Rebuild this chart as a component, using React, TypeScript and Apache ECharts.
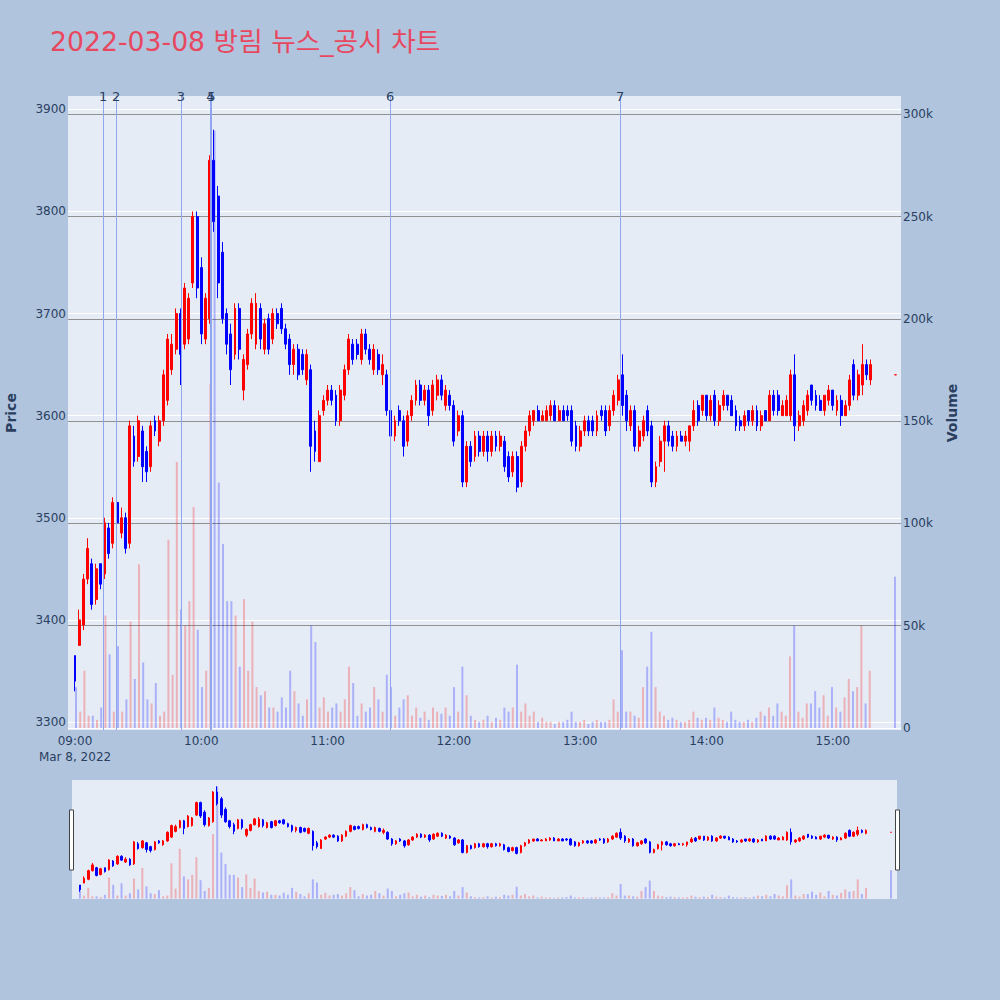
import { useEffect, useRef } from 'react';
import * as echarts from 'echarts';

// [time, open, close, low, high, volume] - 2 minute candles
type Candle = [string, number, number, number, number, number];

const candles0900: Candle[] = [
  ['09:00', 3365, 3340, 3330, 3365, 20000],
  ['09:02', 3375, 3400, 3375, 3410, 8000],
  ['09:04', 3395, 3440, 3390, 3445, 28000],
  ['09:06', 3440, 3470, 3435, 3480, 6000],
  ['09:08', 3455, 3415, 3410, 3460, 6000],
  ['09:10', 3420, 3450, 3415, 3455, 4000],
  ['09:12', 3455, 3435, 3430, 3455, 10000],
  ['09:14', 3445, 3495, 3440, 3500, 55000],
  ['09:16', 3490, 3465, 3460, 3495, 36000],
  ['09:18', 3475, 3515, 3470, 3520, 8000],
  ['09:20', 3515, 3495, 3490, 3520, 40000],
  ['09:22', 3485, 3500, 3480, 3510, 8000],
  ['09:24', 3500, 3470, 3465, 3505, 14000],
  ['09:26', 3475, 3590, 3470, 3595, 52000],
  ['09:28', 3580, 3555, 3550, 3590, 24000],
  ['09:30', 3560, 3595, 3555, 3600, 80000],
  ['09:32', 3585, 3550, 3535, 3590, 32000],
  ['09:34', 3565, 3545, 3535, 3570, 14000],
  ['09:36', 3550, 3590, 3545, 3595, 12000],
  ['09:38', 3595, 3585, 3580, 3600, 22000],
  ['09:40', 3575, 3595, 3570, 3600, 6000],
  ['09:42', 3595, 3640, 3590, 3645, 8000],
  ['09:44', 3615, 3675, 3610, 3680, 92000],
  ['09:46', 3645, 3670, 3640, 3680, 26000],
  ['09:48', 3665, 3700, 3660, 3705, 130000],
  ['09:50', 3700, 3660, 3630, 3705, 58000],
  ['09:52', 3670, 3725, 3665, 3730, 50000],
  ['09:54', 3675, 3715, 3670, 3720, 62000],
  ['09:56', 3730, 3795, 3725, 3800, 108000],
  ['09:58', 3795, 3725, 3715, 3800, 48000],
];

const candles1000: Candle[] = [
  ['10:00', 3745, 3680, 3670, 3755, 20000],
  ['10:02', 3675, 3715, 3670, 3720, 28000],
  ['10:04', 3695, 3850, 3690, 3855, 168000],
  ['10:06', 3850, 3790, 3780, 3880, 292000],
  ['10:08', 3815, 3730, 3715, 3825, 120000],
  ['10:10', 3760, 3695, 3690, 3770, 90000],
  ['10:12', 3700, 3670, 3660, 3705, 62000],
  ['10:14', 3680, 3645, 3630, 3690, 62000],
  ['10:16', 3660, 3705, 3655, 3710, 55000],
  ['10:18', 3705, 3665, 3655, 3710, 30000],
  ['10:20', 3625, 3655, 3615, 3660, 63000],
  ['10:22', 3650, 3680, 3645, 3685, 28000],
  ['10:24', 3680, 3710, 3675, 3715, 52000],
  ['10:26', 3670, 3710, 3665, 3720, 20000],
  ['10:28', 3705, 3675, 3665, 3710, 16000],
  ['10:30', 3665, 3690, 3660, 3695, 18000],
  ['10:32', 3695, 3665, 3660, 3700, 10000],
  ['10:34', 3675, 3700, 3670, 3705, 10000],
  ['10:36', 3700, 3690, 3685, 3705, 8000],
  ['10:38', 3705, 3685, 3680, 3710, 15000],
  ['10:40', 3685, 3670, 3665, 3690, 10000],
  ['10:42', 3675, 3650, 3640, 3680, 28000],
  ['10:44', 3650, 3665, 3640, 3670, 18000],
  ['10:46', 3665, 3640, 3635, 3670, 12000],
  ['10:48', 3660, 3645, 3640, 3665, 6000],
  ['10:50', 3635, 3660, 3630, 3665, 14000],
  ['10:52', 3645, 3570, 3545, 3650, 50000],
  ['10:54', 3585, 3565, 3555, 3595, 42000],
  ['10:56', 3555, 3600, 3555, 3605, 10000],
  ['10:58', 3605, 3615, 3600, 3620, 15000],
];

const candles1100: Candle[] = [
  ['11:00', 3615, 3625, 3610, 3630, 8000],
  ['11:02', 3625, 3615, 3610, 3630, 10000],
  ['11:04', 3620, 3595, 3590, 3625, 12000],
  ['11:06', 3595, 3625, 3590, 3630, 8000],
  ['11:08', 3620, 3645, 3615, 3650, 14000],
  ['11:10', 3645, 3675, 3640, 3680, 30000],
  ['11:12', 3670, 3655, 3650, 3675, 22000],
  ['11:14', 3670, 3660, 3655, 3675, 6000],
  ['11:16', 3655, 3680, 3650, 3685, 12000],
  ['11:18', 3680, 3665, 3660, 3685, 8000],
  ['11:20', 3665, 3655, 3650, 3670, 10000],
  ['11:22', 3645, 3665, 3640, 3670, 20000],
  ['11:24', 3660, 3645, 3640, 3665, 14000],
  ['11:26', 3640, 3650, 3630, 3660, 8000],
  ['11:28', 3640, 3605, 3600, 3645, 26000],
  ['11:30', 3605, 3580, 3570, 3610, 20000],
  ['11:32', 3580, 3595, 3575, 3600, 6000],
  ['11:34', 3605, 3595, 3590, 3610, 10000],
  ['11:36', 3595, 3570, 3560, 3600, 14000],
  ['11:38', 3575, 3600, 3570, 3605, 16000],
  ['11:40', 3600, 3615, 3595, 3620, 6000],
  ['11:42', 3615, 3630, 3610, 3635, 10000],
  ['11:44', 3630, 3615, 3610, 3635, 5000],
  ['11:46', 3615, 3625, 3610, 3630, 8000],
  ['11:48', 3625, 3600, 3590, 3630, 4000],
  ['11:50', 3605, 3630, 3600, 3635, 10000],
  ['11:52', 3620, 3635, 3615, 3640, 8000],
  ['11:54', 3635, 3620, 3615, 3640, 7000],
  ['11:56', 3610, 3625, 3605, 3630, 10000],
  ['11:58', 3620, 3610, 3605, 3625, 6000],
];

const candles1200: Candle[] = [
  ['12:00', 3610, 3575, 3570, 3615, 20000],
  ['12:02', 3585, 3600, 3580, 3605, 8000],
  ['12:04', 3600, 3535, 3530, 3605, 30000],
  ['12:06', 3535, 3570, 3530, 3575, 16000],
  ['12:08', 3570, 3555, 3550, 3575, 6000],
  ['12:10', 3560, 3580, 3555, 3585, 4000],
  ['12:12', 3580, 3565, 3560, 3585, 3000],
  ['12:14', 3565, 3580, 3560, 3585, 4000],
  ['12:16', 3580, 3565, 3555, 3585, 6000],
  ['12:18', 3565, 3580, 3560, 3585, 3000],
  ['12:20', 3580, 3570, 3565, 3585, 5000],
  ['12:22', 3570, 3580, 3565, 3585, 4000],
  ['12:24', 3575, 3550, 3545, 3580, 10000],
  ['12:26', 3560, 3540, 3535, 3565, 8000],
  ['12:28', 3545, 3560, 3540, 3565, 10000],
  ['12:30', 3560, 3530, 3525, 3565, 31000],
  ['12:32', 3535, 3570, 3530, 3575, 8000],
  ['12:34', 3570, 3585, 3565, 3590, 12000],
  ['12:36', 3585, 3600, 3580, 3605, 6000],
  ['12:38', 3595, 3605, 3590, 3605, 8000],
  ['12:40', 3605, 3595, 3595, 3610, 3000],
  ['12:42', 3595, 3600, 3595, 3605, 5000],
  ['12:44', 3595, 3605, 3595, 3610, 3000],
  ['12:46', 3600, 3610, 3595, 3615, 3000],
  ['12:48', 3610, 3595, 3595, 3615, 2000],
  ['12:50', 3595, 3605, 3595, 3610, 3000],
  ['12:52', 3605, 3595, 3595, 3610, 3000],
  ['12:54', 3605, 3600, 3595, 3610, 4000],
  ['12:56', 3605, 3575, 3570, 3610, 8000],
  ['12:58', 3590, 3570, 3565, 3595, 3000],
];

const candles1300: Candle[] = [
  ['13:00', 3570, 3585, 3565, 3590, 3000],
  ['13:02', 3585, 3595, 3580, 3600, 4000],
  ['13:04', 3595, 3585, 3580, 3600, 2000],
  ['13:06', 3595, 3585, 3580, 3600, 3000],
  ['13:08', 3585, 3600, 3580, 3605, 4000],
  ['13:10', 3605, 3600, 3595, 3610, 3000],
  ['13:12', 3605, 3585, 3580, 3610, 3000],
  ['13:14', 3590, 3605, 3585, 3610, 4000],
  ['13:16', 3605, 3620, 3600, 3625, 14000],
  ['13:18', 3615, 3635, 3610, 3640, 8000],
  ['13:20', 3640, 3610, 3600, 3660, 38000],
  ['13:22', 3620, 3595, 3585, 3625, 8000],
  ['13:24', 3590, 3605, 3585, 3610, 8000],
  ['13:26', 3605, 3570, 3565, 3610, 6000],
  ['13:28', 3570, 3585, 3565, 3590, 5000],
  ['13:30', 3580, 3595, 3575, 3600, 20000],
  ['13:32', 3605, 3585, 3580, 3610, 30000],
  ['13:34', 3590, 3535, 3530, 3595, 47000],
  ['13:36', 3535, 3550, 3530, 3555, 20000],
  ['13:38', 3555, 3575, 3550, 3580, 8000],
  ['13:40', 3575, 3590, 3545, 3595, 6000],
  ['13:42', 3590, 3575, 3570, 3595, 4000],
  ['13:44', 3580, 3570, 3565, 3585, 5000],
  ['13:46', 3570, 3580, 3565, 3585, 4000],
  ['13:48', 3580, 3575, 3575, 3585, 3000],
  ['13:50', 3575, 3580, 3570, 3585, 3000],
  ['13:52', 3575, 3590, 3565, 3590, 4000],
  ['13:54', 3590, 3605, 3585, 3615, 8000],
  ['13:56', 3610, 3595, 3590, 3615, 5000],
  ['13:58', 3605, 3620, 3600, 3620, 4000],
];

const candles1400: Candle[] = [
  ['14:00', 3620, 3600, 3595, 3620, 5000],
  ['14:02', 3600, 3615, 3595, 3620, 4000],
  ['14:04', 3620, 3595, 3590, 3625, 10000],
  ['14:06', 3595, 3610, 3590, 3615, 5000],
  ['14:08', 3610, 3620, 3605, 3625, 4000],
  ['14:10', 3620, 3610, 3605, 3620, 3000],
  ['14:12', 3615, 3600, 3600, 3620, 8000],
  ['14:14', 3605, 3590, 3585, 3610, 4000],
  ['14:16', 3595, 3590, 3585, 3600, 3000],
  ['14:18', 3590, 3600, 3585, 3605, 3000],
  ['14:20', 3605, 3595, 3590, 3605, 4000],
  ['14:22', 3595, 3605, 3590, 3610, 3000],
  ['14:24', 3605, 3590, 3585, 3610, 5000],
  ['14:26', 3590, 3600, 3585, 3605, 8000],
  ['14:28', 3605, 3595, 3595, 3605, 6000],
  ['14:30', 3595, 3620, 3595, 3625, 10000],
  ['14:32', 3620, 3605, 3600, 3625, 6000],
  ['14:34', 3620, 3605, 3600, 3625, 12000],
  ['14:36', 3600, 3610, 3600, 3615, 8000],
  ['14:38', 3600, 3615, 3600, 3620, 6000],
  ['14:40', 3600, 3640, 3595, 3645, 35000],
  ['14:42', 3640, 3590, 3575, 3660, 50000],
  ['14:44', 3590, 3600, 3585, 3605, 8000],
  ['14:46', 3595, 3610, 3590, 3615, 5000],
  ['14:48', 3605, 3620, 3600, 3625, 12000],
  ['14:50', 3630, 3615, 3610, 3630, 12000],
  ['14:52', 3620, 3610, 3605, 3625, 18000],
  ['14:54', 3615, 3605, 3605, 3620, 10000],
  ['14:56', 3605, 3620, 3600, 3620, 16000],
  ['14:58', 3615, 3625, 3610, 3630, 6000],
];

const candles1500: Candle[] = [
  ['15:00', 3625, 3610, 3605, 3625, 20000],
  ['15:02', 3605, 3615, 3600, 3620, 10000],
  ['15:04', 3615, 3600, 3590, 3620, 8000],
  ['15:06', 3600, 3610, 3600, 3615, 15000],
  ['15:08', 3610, 3635, 3605, 3640, 24000],
  ['15:10', 3650, 3620, 3615, 3655, 18000],
  ['15:12', 3620, 3640, 3615, 3645, 20000],
  ['15:14', 3630, 3650, 3620, 3670, 50000],
  ['15:16', 3650, 3640, 3635, 3655, 12000],
  ['15:18', 3635, 3650, 3630, 3655, 28000],
  ['15:30', 3640, 3640, 3640, 3640, 74000],
];

// numbered news / disclosure markers
const eventMarks = [
  { label: '1', time: '09:13:20' },
  { label: '2', time: '09:19:30' },
  { label: '3', time: '09:50:20' },
  { label: '4', time: '10:04:20' },
  { label: '5', time: '10:04:50' },
  { label: '6', time: '11:29:40' },
  { label: '7', time: '13:19:00' },
];

const tradeDate = { year: 2022, month: 3, day: 8, monthName: 'Mar' };
const priceAxis = { min: 3300, max: 3900, step: 100 };
const volumeAxis = { min: 0, max: 300000, step: 50000 };

const UP = '#ff0000';
const DOWN = '#0000ff';
const UP_VOL = 'rgba(255,0,0,0.25)';
const DOWN_VOL = 'rgba(0,0,255,0.25)';
const TEXT = '#2a3f5f';
const FONT = 'DejaVu Sans, Verdana, sans-serif';

const toTs = (t: string) => {
  const [h, m, s = 0] = t.split(':').map(Number);
  return new Date(tradeDate.year, tradeDate.month - 1, tradeDate.day, h, m, s).getTime();
};

const pad = (n: number) => (n < 10 ? '0' + n : '' + n);

export default function App() {
  const chartRef = useRef<HTMLDivElement>(null);

  useEffect(() => {
    if (!chartRef.current) return;
    const chart = echarts.init(chartRef.current, null, { renderer: 'svg' });

    const candles = [
      ...candles0900, ...candles1000, ...candles1100, ...candles1200,
      ...candles1300, ...candles1400, ...candles1500,
    ];
    const isUp = (i: number) => {
      const [, o, c] = candles[i];
      if (c !== o) return c > o;
      return i > 0 ? c >= candles[i - 1][2] : true;
    };
    const candleData = candles.map((c) => [toTs(c[0]), c[1], c[2], c[3], c[4]]);
    const volData = candles.map((c, i) => ({
      value: [toTs(c[0]), c[5]],
      itemStyle: { color: isUp(i) ? UP_VOL : DOWN_VOL },
    }));

    const xMin = toTs('08:56:40');
    const xMax = toTs('15:32:24');
    const HOUR = 3600 * 1000;
    const hiddenX = (gridIndex: number) => ({ gridIndex, type: 'time', min: xMin, max: xMax, show: false });

    const candleStyle = {
      color: UP, color0: DOWN, borderColor: UP, borderColor0: DOWN,
      borderColorDoji: UP, borderWidth: 1,
    };
    const noAxisParts = {
      axisLine: { show: false }, axisTick: { show: false },
      axisLabel: { show: false }, splitLine: { show: false },
    };

    const option = {
      animation: false,
      backgroundColor: '#b0c4de',
      title: {
        text: `${tradeDate.year}-${pad(tradeDate.month)}-${pad(tradeDate.day)} 방림 뉴스_공시 차트`,
        left: 45,
        top: 23,
        textStyle: { color: '#e8485f', fontSize: 26.7, fontWeight: 'normal', fontFamily: FONT + ', Noto Sans CJK KR' },
      },
      grid: [
        { left: 68, top: 96, width: 833, height: 634, show: true, backgroundColor: '#e5ecf6', borderWidth: 0, outerBoundsMode: 'none' },
        { left: 68, top: 109.3, width: 833, height: 612.7, outerBoundsMode: 'none' },
        { left: 68, top: 114.3, width: 833, height: 613.7, outerBoundsMode: 'none' },
        { left: 72, top: 780, width: 825, height: 119, show: true, backgroundColor: '#e5ecf6', borderWidth: 0, outerBoundsMode: 'none' },
      ],
      xAxis: [
        {
          gridIndex: 0, type: 'time', min: xMin, max: xMax, minInterval: HOUR, maxInterval: HOUR,
          axisLine: { show: false }, axisTick: { show: false }, splitLine: { show: false },
          axisLabel: {
            color: TEXT, fontSize: 12, fontFamily: FONT, margin: 3, lineHeight: 16,
            showMinLabel: false, showMaxLabel: false,
            formatter: (v: number) => {
              const d = new Date(v);
              if (d.getMinutes() !== 0 || d.getSeconds() !== 0) return '';
              const hh = pad(d.getHours()) + ':00';
              return d.getHours() === 9 ? `${hh}\n${tradeDate.monthName} ${tradeDate.day}, ${tradeDate.year}` : hh;
            },
          },
        },
        hiddenX(1),
        hiddenX(2),
        hiddenX(3),
      ],
      yAxis: [
        {
          gridIndex: 0, type: 'value', min: 0, max: 1, ...noAxisParts,
          name: 'Price', nameLocation: 'middle', nameGap: 50, nameRotate: 90,
          nameTextStyle: { color: TEXT, fontSize: 14, fontWeight: 'bold', fontFamily: FONT },
        },
        {
          gridIndex: 0, type: 'value', min: 0, max: 1, position: 'right', ...noAxisParts,
          name: 'Volume', nameLocation: 'middle', nameGap: 44, nameRotate: 90,
          nameTextStyle: { color: TEXT, fontSize: 14, fontWeight: 'bold', fontFamily: FONT },
        },
        {
          gridIndex: 1, type: 'value', min: priceAxis.min, max: priceAxis.max, interval: priceAxis.step,
          axisLine: { show: false }, axisTick: { show: false },
          axisLabel: { color: TEXT, fontSize: 12, fontFamily: FONT, margin: 2, formatter: (v: number) => String(v) },
          splitLine: { show: true, lineStyle: { color: '#ffffff', width: 1 } },
        },
        {
          gridIndex: 2, type: 'value', position: 'right',
          min: volumeAxis.min, max: volumeAxis.max, interval: volumeAxis.step,
          axisLine: { show: false }, axisTick: { show: false },
          axisLabel: {
            color: TEXT, fontSize: 12, fontFamily: FONT, margin: 2,
            formatter: (v: number) => (v === 0 ? '0' : v / 1000 + 'k'),
          },
          splitLine: {
            show: true,
            lineStyle: { color: ['#ffffff', '#909090', '#909090', '#909090', '#909090', '#909090', '#909090'], width: 1 },
          },
        },
        { gridIndex: 3, type: 'value', min: 3292, max: 3913, show: false },
        { gridIndex: 3, type: 'value', min: -1000, max: 309000, show: false },
      ],
      series: [
        {
          type: 'line', xAxisIndex: 0, yAxisIndex: 0, data: [],
          markLine: {
            silent: true,
            symbol: ['none', 'none'],
            lineStyle: { color: '#8fa5f0', width: 1, type: 'solid' },
            label: {
              show: true, position: 'end', distance: -7,
              color: TEXT, fontSize: 13, fontFamily: FONT,
              formatter: (p: any) => p.name,
            },
            data: eventMarks.map((e) => ({ name: e.label, xAxis: toTs(e.time) })),
          },
        },
        {
          type: 'bar', xAxisIndex: 2, yAxisIndex: 3, barWidth: 2, data: volData,
        },
        {
          type: 'candlestick', xAxisIndex: 1, yAxisIndex: 2, barWidth: 2.4,
          encode: { x: 0, y: [1, 2, 3, 4] },
          itemStyle: candleStyle,
          data: candleData,
        },
        {
          type: 'bar', xAxisIndex: 3, yAxisIndex: 5, barWidth: 2, data: volData,
        },
        {
          type: 'candlestick', xAxisIndex: 3, yAxisIndex: 4, barWidth: 2,
          encode: { x: 0, y: [1, 2, 3, 4] },
          itemStyle: candleStyle,
          data: candleData,
        },
      ],
      graphic: [
        { type: 'rect', shape: { x: 69.5, y: 810, width: 4, height: 60 }, style: { fill: '#ffffff', stroke: '#444444', lineWidth: 1 } },
        { type: 'rect', shape: { x: 895.5, y: 810, width: 4, height: 60 }, style: { fill: '#ffffff', stroke: '#444444', lineWidth: 1 } },
      ],
    };

    chart.setOption(option as any);

    return () => {
      chart.dispose();
    };
  }, []);

  return <div ref={chartRef} style={{ position: 'fixed', left: 0, top: 0, width: 1000, height: 1000 }} />;
}
